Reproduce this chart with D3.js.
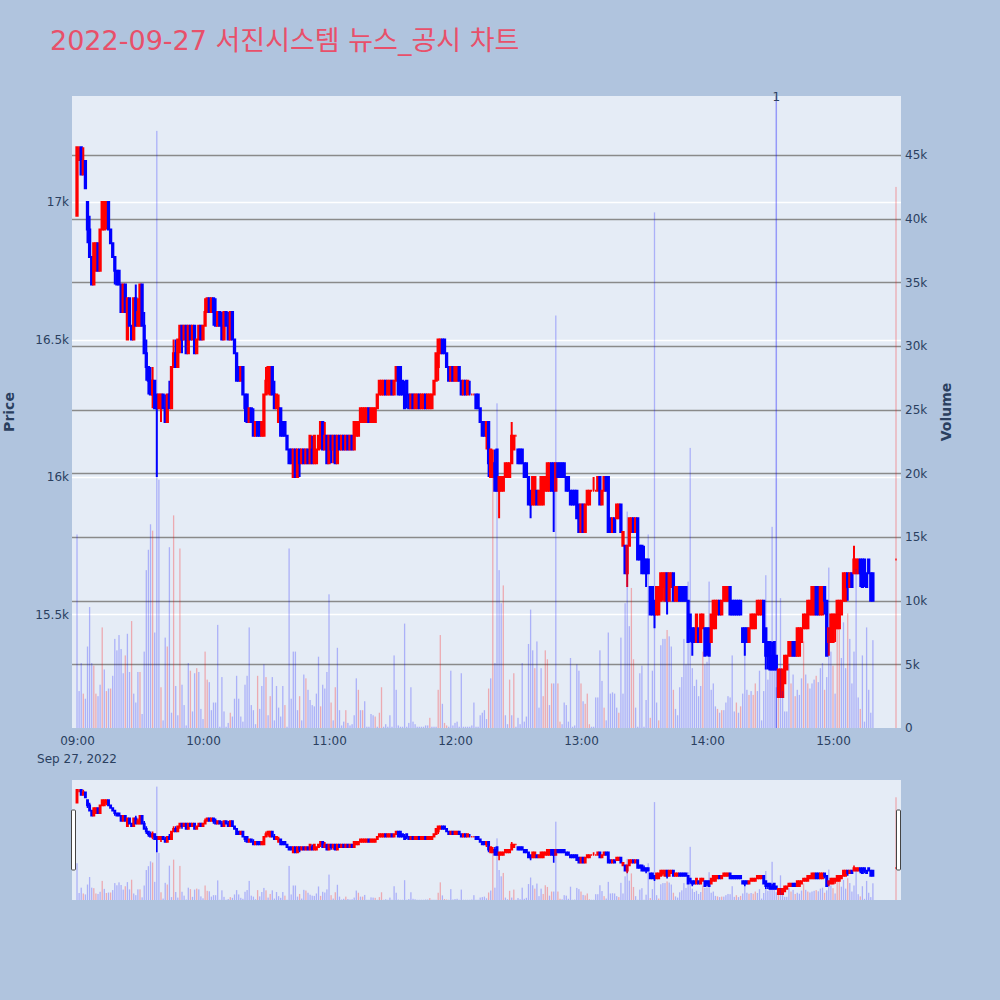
<!DOCTYPE html>
<html><head><meta charset="utf-8">
<script src="https://cdn.jsdelivr.net/npm/d3@7"></script>
<style>body{margin:0;background:#b0c4de;}svg{display:block}</style>
</head><body>
<svg id="chart" width="1000" height="1000"></svg>
<script>
// ---------------- DATA ----------------
const chartTitle = "2022-09-27 서진시스템 뉴스_공시 차트";
const sessionStart = "2022-09-27T09:00:00";   // first one-minute candle; candle i is at sessionStart + i minutes
const priceTicks = [15500, 16000, 16500, 17000];
const volumeTicks = [0, 5000, 10000, 15000, 20000, 25000, 30000, 35000, 40000, 45000];
const timeTicks = ["09:00", "10:00", "11:00", "12:00", "13:00", "14:00", "15:00"];
const dateLabel = "Sep 27, 2022";

const openPrice = [
16950,17200,17200,17100,17150,17000,16900,16800,16700,16750,
16850,16750,16900,16900,16950,17000,16900,16850,16800,16750,
16750,16700,16600,16700,16500,16650,16550,16500,16650,16550,
16550,16700,16550,16450,16400,16350,16300,16350,16300,16250,
16250,16300,16250,16200,16300,16250,16400,16450,16400,16500,
16550,16500,16550,16450,16550,16500,16550,16450,16500,16550,
16500,16550,16600,16650,16600,16650,16600,16550,16600,16550,
16500,16600,16550,16500,16600,16500,16450,16400,16350,16400,
16300,16300,16200,16250,16200,16150,16200,16200,16150,16150,
16300,16350,16300,16400,16300,16250,16200,16250,16200,16200,
16150,16100,16100,16000,16100,16000,16100,16050,16100,16050,
16100,16050,16100,16050,16050,16100,16150,16200,16100,16150,
16050,16150,16100,16150,16050,16150,16100,16150,16100,16150,
16100,16150,16100,16150,16150,16200,16200,16200,16200,16250,
16200,16200,16200,16250,16300,16300,16300,16350,16300,16300,
16350,16300,16350,16400,16400,16350,16300,16350,16300,16250,
16300,16250,16250,16300,16250,16250,16300,16250,16250,16250,
16300,16350,16400,16450,16500,16500,16450,16400,16350,16400,
16350,16350,16400,16350,16300,16350,16300,16300,16300,16300,
16300,16300,16250,16200,16200,16150,16200,16000,16000,16050,
16100,15950,15950,15950,16000,16000,16000,16050,16100,16150,
16100,16100,16100,16050,16050,16000,15950,15900,15900,15950,
15900,15900,15900,15950,15950,15950,16050,16050,15950,16050,
16050,16050,16050,16000,16000,15950,15950,15950,15950,15900,
15800,15900,15800,15900,15900,15950,15950,15950,15950,16000,
15900,15950,16000,16000,15850,15800,15850,15850,15850,15900,
15750,15750,15650,15750,15800,15850,15800,15850,15750,15750,
15700,15700,15700,15600,15600,15550,15500,15500,15550,15600,
15550,15650,15550,15600,15650,15550,15550,15600,15600,15600,
15600,15550,15500,15450,15450,15400,15450,15400,15450,15450,
15450,15450,15400,15450,15450,15500,15550,15500,15550,15550,
15550,15600,15550,15550,15550,15550,15550,15450,15450,15450,
15400,15450,15450,15450,15500,15500,15500,15550,15450,15400,
15400,15350,15400,15350,15200,15200,15200,15250,15300,15350,
15350,15400,15400,15350,15350,15400,15450,15450,15450,15500,
15500,15500,15600,15600,15500,15500,15600,15550,15400,15400,
15400,15450,15450,15450,15500,15550,15550,15650,15600,15650,
15650,15650,15650,15700,15700,15700,15650,15700,15650,15650];

const highPrice = [
17200,17200,17200,17200,17150,17000,16950,16800,16850,16850,
16850,16900,17000,17000,17000,17000,16900,16850,16800,16750,
16750,16700,16700,16700,16650,16650,16550,16650,16700,16650,
16700,16700,16600,16500,16400,16400,16400,16350,16300,16300,
16300,16300,16300,16300,16350,16400,16500,16500,16500,16550,
16550,16550,16550,16550,16550,16550,16550,16500,16550,16550,
16550,16650,16650,16650,16650,16650,16650,16600,16600,16600,
16600,16600,16600,16600,16600,16500,16450,16400,16400,16400,
16300,16300,16250,16250,16250,16200,16200,16200,16200,16300,
16400,16400,16400,16400,16350,16300,16300,16250,16200,16200,
16150,16100,16100,16100,16100,16100,16100,16100,16100,16100,
16100,16150,16150,16150,16100,16150,16200,16200,16200,16150,
16150,16150,16150,16150,16150,16150,16150,16150,16150,16150,
16150,16150,16200,16200,16200,16250,16250,16250,16250,16250,
16250,16250,16250,16300,16350,16350,16350,16350,16350,16350,
16350,16350,16400,16400,16400,16350,16350,16350,16300,16300,
16300,16300,16300,16300,16300,16300,16300,16300,16300,16300,
16350,16450,16500,16500,16500,16500,16450,16400,16400,16400,
16400,16400,16400,16350,16350,16350,16350,16350,16300,16300,
16300,16300,16250,16200,16200,16200,16200,16100,16100,16100,
16100,16000,16000,16000,16050,16050,16050,16200,16150,16150,
16100,16100,16100,16050,16050,16000,15950,16000,16000,15950,
15950,16000,16000,16000,16050,16050,16050,16050,16050,16050,
16050,16050,16050,16000,16000,15950,15950,15950,15950,15900,
15900,15900,15900,15950,15950,15950,16000,15950,16000,16000,
15950,16000,16000,16000,15850,15850,15850,15900,15900,15900,
15800,15750,15750,15850,15850,15850,15850,15850,15750,15750,
15750,15700,15700,15600,15600,15550,15600,15600,15650,15650,
15650,15650,15650,15650,15650,15600,15600,15600,15600,15600,
15600,15550,15500,15450,15450,15500,15450,15500,15500,15450,
15450,15450,15500,15550,15550,15550,15550,15550,15600,15600,
15600,15600,15550,15550,15550,15550,15550,15450,15450,15450,
15450,15500,15500,15500,15550,15550,15550,15550,15450,15400,
15400,15400,15400,15350,15300,15300,15300,15350,15350,15400,
15400,15400,15400,15450,15450,15450,15500,15500,15550,15550,
15600,15600,15600,15600,15600,15600,15600,15550,15450,15500,
15500,15500,15550,15550,15550,15650,15650,15650,15650,15650,
15750,15700,15700,15700,15700,15700,15650,15700,15650,15650];

const lowPrice = [
16950,17150,17100,17100,17050,16850,16800,16700,16700,16750,
16750,16750,16900,16900,16900,16900,16850,16800,16700,16700,
16700,16600,16600,16600,16500,16550,16500,16500,16550,16550,
16550,16550,16450,16350,16300,16300,16250,16250,16000,16250,
16200,16250,16200,16200,16250,16250,16400,16400,16400,16450,
16450,16500,16450,16450,16500,16500,16450,16450,16500,16500,
16500,16550,16600,16600,16600,16550,16550,16550,16550,16500,
16500,16550,16500,16500,16500,16450,16350,16350,16350,16300,
16200,16200,16200,16200,16150,16150,16150,16150,16150,16150,
16300,16300,16300,16300,16250,16250,16200,16150,16150,16150,
16100,16050,16050,16000,16000,16000,16000,16050,16050,16050,
16050,16050,16050,16050,16050,16100,16100,16100,16100,16050,
16050,16050,16050,16050,16050,16100,16100,16100,16100,16100,
16100,16100,16100,16150,16150,16200,16200,16200,16200,16200,
16200,16200,16200,16250,16300,16300,16300,16300,16300,16300,
16300,16300,16350,16300,16300,16300,16250,16250,16250,16250,
16250,16250,16250,16250,16250,16250,16250,16250,16250,16250,
16300,16350,16350,16450,16450,16450,16400,16350,16350,16350,
16350,16350,16350,16300,16300,16300,16300,16300,16300,16300,
16250,16250,16200,16150,16150,16100,16000,16000,16000,15950,
15950,15850,15950,15950,16000,16000,16000,16050,16100,16150,
16050,16050,16050,16000,16000,15900,15850,15900,15900,15900,
15900,15900,15900,15950,15950,15950,15950,15800,15950,16000,
16000,16000,16000,15950,15950,15900,15900,15900,15850,15800,
15800,15800,15800,15900,15900,15950,15950,15950,15950,15900,
15900,15950,15950,15800,15800,15800,15800,15850,15850,15800,
15750,15650,15600,15750,15800,15800,15800,15700,15700,15650,
15650,15600,15650,15500,15500,15450,15500,15500,15550,15550,
15550,15500,15550,15600,15550,15550,15550,15550,15550,15550,
15550,15400,15400,15350,15400,15400,15400,15400,15450,15350,
15350,15350,15400,15450,15450,15500,15500,15500,15550,15550,
15550,15500,15500,15500,15500,15500,15500,15400,15350,15400,
15400,15450,15450,15450,15500,15500,15500,15400,15300,15300,
15300,15300,15300,15300,15200,15200,15200,15250,15300,15350,
15350,15350,15350,15350,15350,15400,15450,15450,15450,15500,
15500,15500,15500,15500,15500,15500,15500,15350,15350,15400,
15400,15400,15450,15450,15500,15550,15550,15550,15600,15600,
15650,15650,15650,15600,15600,15600,15600,15650,15550,15550];

const closePrice = [
17200,17200,17100,17150,17050,16900,16800,16700,16850,16850,
16750,16900,17000,17000,17000,16900,16850,16800,16750,16700,
16700,16600,16700,16600,16650,16550,16500,16650,16550,16600,
16700,16550,16450,16400,16350,16300,16350,16250,16250,16300,
16300,16250,16200,16300,16250,16400,16450,16400,16500,16550,
16500,16550,16450,16550,16500,16550,16450,16500,16550,16500,
16550,16600,16650,16600,16650,16600,16550,16600,16550,16500,
16600,16550,16500,16600,16500,16450,16350,16350,16400,16300,
16250,16200,16250,16200,16150,16200,16150,16150,16200,16300,
16350,16400,16400,16300,16250,16300,16250,16150,16150,16150,
16100,16050,16050,16100,16000,16100,16050,16100,16050,16100,
16050,16150,16050,16150,16100,16150,16200,16100,16150,16050,
16150,16100,16150,16050,16150,16100,16150,16100,16150,16100,
16150,16100,16200,16200,16200,16250,16250,16250,16250,16200,
16250,16250,16250,16300,16350,16350,16350,16300,16350,16350,
16300,16350,16400,16300,16300,16300,16250,16300,16250,16300,
16250,16300,16300,16250,16300,16300,16250,16300,16300,16300,
16350,16450,16500,16500,16450,16450,16400,16350,16400,16350,
16400,16400,16350,16300,16350,16300,16350,16300,16300,16300,
16250,16250,16200,16150,16150,16200,16050,16100,16050,15950,
15950,16000,16000,16000,16050,16050,16050,16150,16150,16150,
16050,16050,16050,16000,16000,15900,15900,16000,16000,15900,
15950,16000,16000,16000,16050,16050,15950,15950,16050,16000,
16000,16000,16000,15950,15950,15900,15900,15900,15850,15800,
15900,15800,15900,15950,15950,15950,15950,15950,16000,15900,
15950,16000,15950,15800,15800,15850,15800,15900,15900,15800,
15800,15650,15750,15850,15850,15800,15850,15700,15700,15650,
15650,15650,15650,15500,15500,15500,15600,15600,15650,15650,
15650,15550,15650,15650,15550,15600,15600,15550,15550,15550,
15550,15400,15450,15400,15400,15500,15400,15500,15500,15350,
15400,15350,15500,15550,15550,15550,15500,15550,15600,15600,
15600,15500,15500,15500,15500,15500,15500,15400,15400,15400,
15450,15500,15500,15500,15550,15550,15550,15400,15350,15350,
15300,15300,15300,15300,15300,15300,15300,15350,15350,15400,
15400,15350,15350,15450,15450,15450,15500,15500,15550,15550,
15600,15600,15500,15500,15600,15600,15550,15350,15450,15500,
15500,15500,15550,15550,15550,15650,15650,15600,15650,15600,
15700,15700,15700,15650,15600,15650,15600,15650,15550,15550];

// volume per minute, thousands of shares
const volumeThousands = [
15.2,2.9,5.1,2.7,2.3,6.4,9.5,5.1,4.9,2.7,
2.5,3.4,7.9,4.6,2.9,3.1,3.1,4.1,7.0,6.1,
7.3,6.2,4.3,5.7,7.4,4.4,8.4,2.7,2.0,4.4,
4.4,1.1,6.0,12.4,14.0,16.0,15.5,7.5,46.9,19.5,
3.2,0.6,7.1,6.4,14.2,1.2,16.7,3.3,1.0,14.1,
3.4,1.8,0.2,5.1,4.5,1.3,4.3,4.7,4.4,1.5,
0.7,6.0,3.8,3.6,1.4,2.0,2.0,8.1,0.1,4.0,
1.3,0.1,0.4,1.2,0.9,2.3,4.1,2.3,0.9,0.5,
3.4,4.1,7.9,1.8,1.4,0.3,4.1,1.5,3.3,5.0,
4.0,1.0,2.5,4.0,0.6,3.3,1.6,0.9,3.3,1.8,
0.1,14.1,2.3,6.0,6.0,1.4,2.5,0.6,4.2,3.9,
3.0,2.2,1.8,1.7,2.7,5.6,1.7,3.4,3.1,4.4,
10.5,2.0,0.6,3.2,6.3,1.4,0.2,0.5,1.4,0.4,
0.2,0.3,1.0,3.9,3.0,1.4,1.4,2.1,0.1,0.1,
1.1,1.0,0.9,0.1,1.2,3.2,0.1,0.3,0.1,1.0,
0.1,5.7,3.0,0.2,0.1,0.1,8.2,0.1,0.4,3.2,
0.5,0.3,0.1,0.1,0.1,0.1,0.2,0.2,0.8,0.1,
0.1,0.1,3.0,7.3,1.9,0.4,0.2,0.1,4.5,0.2,
0.4,0.5,0.1,4.3,0.1,0.1,0.1,0.1,0.2,2.0,
0.1,0.1,1.0,1.2,1.4,0.7,3.1,3.9,19.7,5.1,
25.5,12.4,9.8,11.2,1.0,0.3,3.8,1.0,4.3,0.1,
0.8,0.3,5.1,0.5,0.9,6.6,9.3,6.1,4.7,6.8,
1.6,4.7,2.5,6.1,5.4,1.8,3.5,3.5,32.4,3.5,
0.5,0.3,2.0,1.8,0.5,5.5,0.1,0.2,5.0,4.5,
3.5,2.1,1.9,2.7,0.3,0.1,0.1,2.4,2.4,6.1,
3.7,1.6,0.6,7.5,2.7,2.8,2.7,1.6,1.2,7.1,
2.7,9.8,17.0,8.0,11.0,5.4,1.6,0.1,4.3,4.9,
0.1,2.2,15.2,0.8,4.5,40.5,2.0,0.6,6.5,7.0,
7.0,7.7,7.2,6.4,3.0,1.5,1.0,3.2,4.0,7.0,
5.0,11.5,22.0,4.7,3.3,3.8,2.5,3.3,6.0,5.0,
5.2,11.5,3.0,3.5,1.7,1.5,1.2,1.4,1.4,2.0,
2.5,2.4,5.7,1.3,2.0,1.2,1.7,2.7,6.2,3.0,
2.6,2.9,2.6,3.5,2.9,4.5,0.6,2.9,12.0,3.8,
5.1,15.8,5.6,3.2,2.9,10.2,2.9,1.3,1.3,5.0,
3.5,4.2,2.5,3.0,2.6,3.9,6.8,4.2,3.5,3.1,
3.5,3.8,4.1,3.6,4.7,5.1,3.0,4.0,12.6,6.0,
4.9,2.7,9.0,8.0,5.5,8.3,4.7,9.0,7.0,3.5,
6.0,12.5,2.4,1.5,5.7,0.5,7.9,3.0,1.2,6.9];

// minutes (index from 09:00) whose volume bar is drawn red
const redVolumeMinutes = [3,8,9,12,14,16,23,26,30,36,40,43,46,49,54,57,61,62,73,86,90,92,99,106,109,116,121,123,128,
134,136,142,144,145,168,172,173,175,176,196,198,203,206,208,218,222,223,224,226,229,230,240,242,243,244,251,258,264,265,
273,277,281,284,298,305,307,314,316,320,322,323,334,340,342,346,348,352,356,360,362,363,367,373];

// closing single-price auction
const closingTime = ["2022-09-27T15:30:00"];
const closingOpen = [15700], closingHigh = [15700], closingLow = [15700], closingClose = [15700];
const closingVolumeThousands = [42.5];
const closingRedVolume = [true];

// news marker
const newsTimes = ["2022-09-27T14:33:00"];
const newsLabels = ["1"];

// ---------------- BUILD ----------------
const t0 = new Date(sessionStart);
const rows = openPrice.map((o, i) => ({
  t: new Date(t0.getTime() + i * 60000),
  o, h: highPrice[i], l: lowPrice[i], c: closePrice[i],
  v: volumeThousands[i] * 1000,
  vr: redVolumeMinutes.includes(i)
}));
closingTime.forEach((s, i) => rows.push({
  t: new Date(s), o: closingOpen[i], h: closingHigh[i], l: closingLow[i], c: closingClose[i],
  v: closingVolumeThousands[i] * 1000, vr: closingRedVolume[i]
}));
rows.forEach((d, i) => {
  if (d.c !== d.o) d.up = d.c > d.o;
  else d.up = i === 0 ? true : d.c >= rows[i - 1].c;
});

const UP = "#ff0000", DOWN = "#0000ff";
const FONT = "'DejaVu Sans', 'Noto Sans CJK KR', sans-serif";
const TXT = "#2a3f5f";

const svg = d3.select("#chart");
const W = 1000, H = 1000;
svg.append("rect").attr("width", W).attr("height", H).attr("fill", "#b0c4de");

const plot = {l: 72, r: 901, t: 96, b: 728};
const slider = {l: 72, r: 901, t: 780, b: 900};

const xDomain = [new Date("2022-09-27T08:57:37"), new Date("2022-09-27T15:32:23")];
const x = d3.scaleTime().domain(xDomain).range([plot.l, plot.r]);
const yP = d3.scaleLinear().domain([15087, 17386]).range([plot.b, plot.t]);
const yV = d3.scaleLinear().domain([0, 49640]).range([plot.b, plot.t]);

// title
svg.append("text").attr("x", 50).attr("y", 50).attr("font-family", FONT)
  .attr("font-size", 27).attr("fill", "#e8506a").text(chartTitle);

// plot background
svg.append("rect").attr("x", plot.l).attr("y", plot.t).attr("width", plot.r - plot.l)
  .attr("height", plot.b - plot.t).attr("fill", "#e5ecf6");

svg.append("defs").append("clipPath").attr("id", "clipMain").append("rect")
  .attr("x", plot.l).attr("y", plot.t).attr("width", plot.r - plot.l).attr("height", plot.b - plot.t);

// price grid (white)
svg.append("g").selectAll("line").data(priceTicks).join("line")
  .attr("x1", plot.l).attr("x2", plot.r)
  .attr("y1", d => Math.round(yP(d)) + 0.5).attr("y2", d => Math.round(yP(d)) + 0.5)
  .attr("stroke", "#ffffff").attr("stroke-width", 1.5);
// volume grid (grey)
svg.append("g").selectAll("line").data(volumeTicks.filter(d => d > 0)).join("line")
  .attr("x1", plot.l).attr("x2", plot.r)
  .attr("y1", d => Math.round(yV(d)) + 0.5).attr("y2", d => Math.round(yV(d)) + 0.5)
  .attr("stroke", "#8a8a8a").attr("stroke-width", 1.5);

function candlePath(d, xs, ys, bw) {
  const cx = xs(d.t), yo = ys(d.o), yc = ys(d.c), yh = ys(d.h), yl = ys(d.l);
  const top = Math.min(yo, yc), bot = Math.max(yo, yc);
  return `M${cx - bw / 2},${yo}H${cx + bw / 2}V${yc}H${cx - bw / 2}Z` +
         `M${cx},${top}V${yh}M${cx},${bot}V${yl}`;
}

function drawCandles(g, xs, ys, bw, sw) {
  g.selectAll("path").data(rows).join("path")
    .attr("d", d => candlePath(d, xs, ys, bw))
    .attr("fill", d => d.up ? UP : DOWN)
    .attr("stroke", d => d.up ? UP : DOWN)
    .attr("stroke-width", sw);
}
function drawVolume(g, xs, ys, bw, base) {
  g.selectAll("rect").data(rows).join("rect")
    .attr("x", d => xs(d.t) - bw / 2).attr("width", bw)
    .attr("y", d => ys(d.v)).attr("height", d => base - ys(d.v))
    .attr("fill", d => d.vr ? "rgba(255,0,0,0.28)" : "rgba(0,0,255,0.25)");
}

const main = svg.append("g").attr("clip-path", "url(#clipMain)");
drawCandles(main.append("g"), x, yP, 1.3, 2);
drawVolume(main.append("g"), x, yV, 1.3, plot.b);

// news markers
main.append("g").selectAll("line").data(newsTimes).join("line")
  .attr("x1", d => x(new Date(d))).attr("x2", d => x(new Date(d)))
  .attr("y1", plot.t).attr("y2", plot.b)
  .attr("stroke", "rgba(0,0,255,0.35)").attr("stroke-width", 1.5);
svg.append("g").selectAll("text").data(newsTimes).join("text")
  .attr("x", d => x(new Date(d))).attr("y", plot.t + 5).attr("text-anchor", "middle")
  .attr("font-family", FONT).attr("font-size", 12).attr("fill", TXT)
  .text((d, i) => newsLabels[i]);

// axes
const axL = d3.axisLeft(yP).tickValues(priceTicks).tickSize(0).tickPadding(3)
  .tickFormat(d => (d / 1000) + "k");
const gL = svg.append("g").attr("transform", `translate(${plot.l},0)`).call(axL);
const axR = d3.axisRight(yV).tickValues(volumeTicks).tickSize(0).tickPadding(4)
  .tickFormat(d => d === 0 ? "0" : (d / 1000) + "k");
const gR = svg.append("g").attr("transform", `translate(${plot.r},0)`).call(axR);
const axB = d3.axisBottom(x).tickValues(timeTicks.map(s => new Date("2022-09-27T" + s + ":00")))
  .tickSize(0).tickPadding(8).tickFormat(d3.timeFormat("%H:%M"));
const gB = svg.append("g").attr("transform", `translate(0,${plot.b})`).call(axB);
[gL, gR, gB].forEach(g => {
  g.select(".domain").remove();
  g.selectAll("text").attr("font-family", FONT).attr("font-size", 12).attr("fill", TXT);
});
svg.append("text").attr("x", x(new Date("2022-09-27T09:00:00"))).attr("y", 763)
  .attr("text-anchor", "middle").attr("font-family", FONT).attr("font-size", 12)
  .attr("fill", TXT).text(dateLabel);

// axis titles
svg.append("text").attr("transform", `translate(14,${(plot.t + plot.b) / 2}) rotate(-90)`)
  .attr("text-anchor", "middle").attr("font-family", FONT).attr("font-size", 14)
  .attr("font-weight", "bold").attr("fill", TXT).text("Price");
svg.append("text").attr("transform", `translate(951,${(plot.t + plot.b) / 2}) rotate(-90)`)
  .attr("text-anchor", "middle").attr("font-family", FONT).attr("font-size", 14)
  .attr("font-weight", "bold").attr("fill", TXT).text("Volume");

// ---------------- RANGE SLIDER ----------------
const xs = d3.scaleTime().domain(xDomain).range([slider.l, slider.r]);
const ysP = d3.scaleLinear().domain(yP.domain()).range([slider.b, slider.t]);
const ysV = d3.scaleLinear().domain(yV.domain()).range([slider.b, slider.t]);
svg.append("rect").attr("x", slider.l).attr("y", slider.t).attr("width", slider.r - slider.l)
  .attr("height", slider.b - slider.t).attr("fill", "#e5ecf6");
svg.append("defs").append("clipPath").attr("id", "clipSlider").append("rect")
  .attr("x", slider.l).attr("y", slider.t).attr("width", slider.r - slider.l).attr("height", slider.b - slider.t);
const sg = svg.append("g").attr("clip-path", "url(#clipSlider)");
drawCandles(sg.append("g"), xs, ysP, 1.3, 1.6);
drawVolume(sg.append("g"), xs, ysV, 1.3, slider.b);
const hh = (slider.b - slider.t) / 2;
[slider.l + 2, slider.r - 2].forEach(px => {
  svg.append("rect").attr("x", px - 2.5).attr("y", slider.t + hh / 2).attr("width", 4).attr("height", hh)
    .attr("rx", 1).attr("fill", "#ffffff").attr("stroke", "#444").attr("stroke-width", 1);
});
</script>
</body></html>
